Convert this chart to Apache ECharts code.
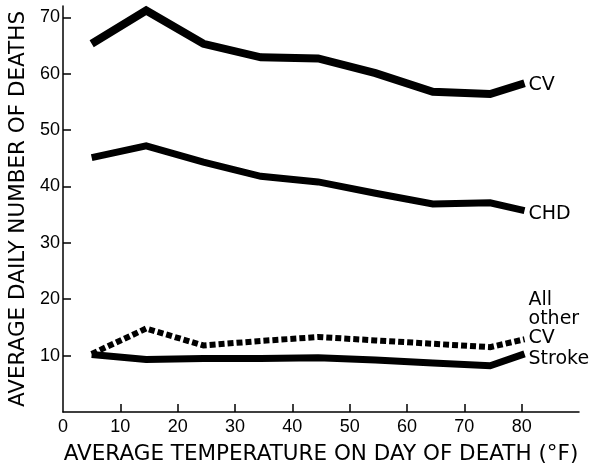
<!DOCTYPE html>
<html>
<head>
<meta charset="utf-8">
<script src="https://cdn.jsdelivr.net/npm/echarts@6/dist/echarts.min.js"></script>
<style>html,body{margin:0;padding:0;background:#fff}#c{width:595px;height:464px}</style>
</head>
<body>
<div id="c"></div>
<script>
// Temperature midpoints (°F)
var temps = [5, 14.5, 24.5, 34.5, 44.5, 54.5, 64.5, 74.5, 80.5];
// Average daily number of deaths
var cvDeaths = [65.3, 71.2, 65.3, 62.9, 62.7, 60.1, 56.8, 56.4, 58.3];
var chdDeaths = [45.1, 47.2, 44.3, 41.8, 40.8, 38.8, 36.9, 37.1, 35.7];
var strokeDeaths = [10.2, 9.3, 9.5, 9.5, 9.6, 9.2, 8.7, 8.2, 10.3];
var otherCvDeaths = [10.3, 14.8, 11.8, 12.6, 13.3, 12.7, 12.1, 11.5, 12.9];
// Tick labels
var xTickLabels = [0, 10, 20, 30, 40, 50, 60, 70, 80];
var xTicks = [10, 20, 30, 40, 50, 60, 70, 80];
var yTicks = [10, 20, 30, 40, 50, 60, 70];

function pairs(ys) { return temps.map(function (t, i) { return [t, ys[i]]; }); }

var labelFont = { fontFamily: 'DejaVu Sans', fontSize: 19, color: '#000', lineHeight: 19 };

function series(name, ys, width, type, labelText, offset) {
  return {
    name: name, type: 'line', data: pairs(ys), symbol: 'none', silent: true,
    lineStyle: { color: '#000', width: width, type: type, cap: 'butt', join: 'miter' },
    endLabel: Object.assign({ show: true, formatter: labelText, distance: 4, offset: offset, align: 'left' }, labelFont)
  };
}

var chart = echarts.init(document.getElementById('c'), null, { renderer: 'canvas' });
chart.setOption({
  animation: false,
  backgroundColor: '#fff',
  grid: { left: 63, right: 16, top: 6, bottom: 52, containLabel: false, outerBoundsMode: 'none' },
  xAxis: {
    type: 'value', min: 0, max: 90, interval: 10,
    name: 'AVERAGE TEMPERATURE ON DAY OF DEATH (°F)', nameLocation: 'middle', nameGap: 31,
    nameTextStyle: { fontFamily: 'DejaVu Sans', fontSize: 21.5, color: '#000' },
    axisLine: { lineStyle: { color: '#000', width: 1.5 } },
    axisTick: { inside: true, length: 8, customValues: xTicks, lineStyle: { color: '#000', width: 1.5 } },
    axisLabel: { customValues: xTickLabels, margin: 6, fontFamily: 'Liberation Sans', fontSize: 18, color: '#000' },
    splitLine: { show: false }
  },
  yAxis: {
    type: 'value', min: 0, max: 72, interval: 10,
    name: 'AVERAGE DAILY NUMBER OF DEATHS', nameLocation: 'middle', nameGap: 30, nameRotate: 90,
    nameTextStyle: { fontFamily: 'DejaVu Sans', fontSize: 21.5, color: '#000' },
    axisLine: { show: true, lineStyle: { color: '#000', width: 1.5 } },
    axisTick: { show: true, inside: true, length: 8, customValues: yTicks, lineStyle: { color: '#000', width: 1.5 } },
    axisLabel: { customValues: yTicks, margin: 3, fontFamily: 'Liberation Sans', fontSize: 18, color: '#000' },
    splitLine: { show: false }
  },
  series: [
    series('CV', cvDeaths, 8, 'solid', 'CV', [0, 2]),
    series('CHD', chdDeaths, 7, 'solid', 'CHD', [0, 3]),
    series('Stroke', strokeDeaths, 7, 'solid', 'Stroke', [0, 5]),
    series('All other CV', otherCvDeaths, 6, [6, 3], 'All\nother\nCV', [0, -20])
  ]
});
</script>
</body>
</html>
